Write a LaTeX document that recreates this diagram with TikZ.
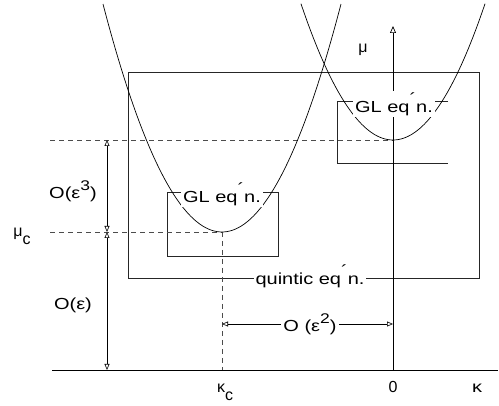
\documentclass[tikz,border=0pt]{standalone}
\usepackage{fontspec}
\usepackage{graphicx}
\setmainfont{Liberation Sans}
\usetikzlibrary{arrows.meta}
\newcommand{\stx}[1]{\scalebox{1.25}[1]{#1}}
\newcommand{\prm}{\raisebox{0.55em}{\symbol{"00B4}}}
\newcommand{\supr}[1]{\raisebox{0.5em}{\fontsize{14}{14}\selectfont #1}}
\newcommand{\subr}[1]{\raisebox{-0.45em}{#1}}
\begin{document}
\begin{tikzpicture}[x=1pt,y=-1pt,
  lbl/.style={font=\fontsize{16}{19}\selectfont, inner sep=1pt, anchor=base},
  cut/.style={lbl, fill=white, inner xsep=2pt},
  boxline/.style={draw=black!85, line width=0.7pt},
  dashln/.style={draw=black!70, line width=0.7pt, dash pattern=on 5pt off 4pt},
  dim/.style={{Triangle[open,length=6pt,width=5pt]}-{Triangle[open,length=6pt,width=5pt]}, line width=0.6pt},
  curve/.style={line width=0.7pt},
  axis/.style={line width=0.7pt}
]
\useasboundingbox (0,0) rectangle (499,406);
% coordinates
\coordinate (xl) at (52,370);
\coordinate (xr) at (498,370);
\coordinate (O) at (393,370);
\coordinate (ytop) at (393,26);
\coordinate (kc) at (222,370);
\coordinate (minL) at (222,232);
\coordinate (minR) at (393,140);
\coordinate (dL1) at (50,140);
\coordinate (dL2) at (50,232);
\coordinate (v1) at (107,140);
\coordinate (v2) at (107,232);
\coordinate (v3) at (107,370);
\coordinate (h1) at (222,324);
\coordinate (h2) at (393,324);
\coordinate (bigA) at (128,72);
\coordinate (bigB) at (479,278);
\coordinate (smA) at (167,192);
\coordinate (smB) at (278,256);
\coordinate (r1) at (448,101);
\coordinate (r2) at (337,101);
\coordinate (r3) at (337,163);
\coordinate (r4) at (448,163);
% boxes
\draw[boxline] (bigA) rectangle (bigB);
\draw[boxline] (smA) rectangle (smB);
\draw[boxline] (r1) -- (r2) -- (r3) -- (r4);
% dashed guides
\draw[dashln] (dL1) -- (minR);
\draw[dashln] (dL2) -- (minL);
\draw[dashln] (minL) -- (kc);
% axes
\draw[axis] (xl) -- (xr);
\draw[axis, -{Triangle[open,length=7pt,width=6pt]}] (O) -- (ytop);
% parabolas
\draw[curve] plot[domain=-119:119, samples=80, smooth] ({222+\x}, {232-0.0161*\x*\x});
\draw[curve] plot[domain=-92:92, samples=80, smooth] ({393+\x}, {140-0.0161*\x*\x});
% dimension lines
\draw[dim] (v1) -- (v2);
\draw[dim] (v2) -- (v3);
\draw[dim] (h1) -- (h2);
% labels
\node[lbl] (mu) at (363,53) {μ};
\node[lbl] (kap) at (477,393) {\stx{κ}};
\node[lbl] (zero) at (393,393) {0};
\node[lbl] (kapc) at (225,393) {κ\subr{c}};
\node[lbl] (muc) at (22,237) {μ\subr{c}};
\node[lbl] (e3) at (73,199) {\stx{O(ε\supr{3})}};
\node[lbl] (e1) at (73,310) {\stx{O(ε)}};
\node[cut] (e2) at (310,332) {\stx{O (ε\supr{2})}};
\node[cut] (gl1) at (222,203) {\stx{GL eq\prm n.}};
\node[cut] (gl2) at (394,113) {\stx{GL eq\prm n.}};
\node[cut] (quin) at (310,285) {\stx{quintic eq\prm n.}};
\end{tikzpicture}
\end{document}
